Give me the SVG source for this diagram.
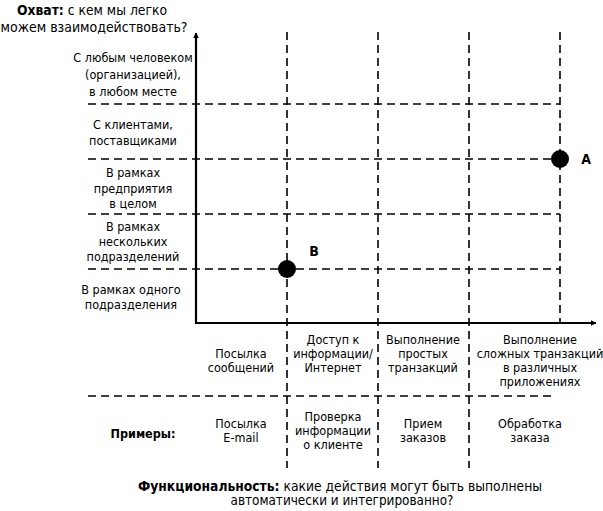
<svg xmlns="http://www.w3.org/2000/svg" width="603" height="511" viewBox="0 0 603 511">
<defs>
<marker id="arr" viewBox="0 0 10 10" refX="9" refY="5" markerWidth="6" markerHeight="6" orient="auto" markerUnits="userSpaceOnUse">
<path d="M0,0 L10,5 L0,10 z" fill="#000"/>
</marker>
<style>
text{font-family:"DejaVu Sans Condensed","Liberation Sans Narrow","Liberation Sans",sans-serif;font-size:12.5px;fill:#000;text-anchor:middle}
.t{font-size:14px}
.b{font-weight:bold}
.d{stroke:#000;stroke-width:1.6;stroke-dasharray:8 5;fill:none}
.ax{stroke:#000;stroke-width:2.2;fill:none}
</style>
</defs>
<rect width="603" height="511" fill="#fff"/>
<g id="grid">
<line class="d" x1="88" y1="104" x2="560" y2="104"/>
<line class="d" x1="88" y1="159" x2="560" y2="159"/>
<line class="d" x1="88" y1="214" x2="560" y2="214"/>
<line class="d" x1="88" y1="269" x2="560" y2="269"/>
<line class="d" x1="287" y1="32" x2="287" y2="468"/>
<line class="d" x1="378" y1="32" x2="378" y2="468"/>
<line class="d" x1="469" y1="32" x2="469" y2="468"/>
<line class="d" x1="560" y1="32" x2="560" y2="323"/>
<line class="d" x1="88" y1="396" x2="555" y2="396"/>
</g>
<g id="axes">
<line class="ax" x1="196" y1="324" x2="196" y2="33" marker-end="url(#arr)"/>
<line class="ax" x1="195" y1="323" x2="596" y2="323" marker-end="url(#arr)"/>
</g>
<g id="title-y">
<text class="t" x="92" y="15" textLength="150" lengthAdjust="spacingAndGlyphs"><tspan class="b">Охват:</tspan> с кем мы легко</text>
<text class="t" x="94" y="32" textLength="187" lengthAdjust="spacingAndGlyphs">можем взаимодействовать?</text>
</g>
<g id="rows">
<text x="133" y="62">С любым человеком</text>
<text x="133" y="79">(организацией),</text>
<text x="133" y="96">в любом месте</text>
<text x="133" y="129">С клиентами,</text>
<text x="133" y="145">поставщиками</text>
<text x="133" y="177">В рамках</text>
<text x="133" y="193">предприятия</text>
<text x="133" y="208">в целом</text>
<text x="133" y="231">В рамках</text>
<text x="133" y="246">нескольких</text>
<text x="133" y="261">подразделений</text>
<text x="131" y="294">В рамках одного</text>
<text x="131" y="309">подразделения</text>
</g>
<g id="point-A">
<circle cx="560" cy="159" r="9"/>
<text class="t b" x="586" y="164">A</text>
</g>
<g id="point-B">
<circle cx="287" cy="269" r="9"/>
<text class="t b" x="314" y="256">B</text>
</g>
<g id="cols">
<text x="241" y="358">Посылка</text>
<text x="241" y="372">сообщений</text>
<text x="333" y="344">Доступ к</text>
<text x="333" y="358">информации/</text>
<text x="333" y="372">Интернет</text>
<text x="423" y="344">Выполнение</text>
<text x="423" y="358">простых</text>
<text x="423" y="372">транзакций</text>
<text x="540" y="344">Выполнение</text>
<text x="540" y="358">сложных транзакций</text>
<text x="540" y="372">в различных</text>
<text x="540" y="386">приложениях</text>
</g>
<g id="examples">
<text class="b" x="143" y="438">Примеры:</text>
<text x="241" y="428">Посылка</text>
<text x="241" y="442">E-mail</text>
<text x="333" y="421">Проверка</text>
<text x="333" y="435">информации</text>
<text x="333" y="449">о клиенте</text>
<text x="423" y="428">Прием</text>
<text x="423" y="442">заказов</text>
<text x="530" y="428">Обработка</text>
<text x="530" y="442">заказа</text>
</g>
<g id="title-x">
<text class="t" x="340" y="491" textLength="404" lengthAdjust="spacingAndGlyphs"><tspan class="b">Функциональность:</tspan> какие действия могут быть выполнены</text>
<text class="t" x="342" y="505" textLength="223" lengthAdjust="spacingAndGlyphs">автоматически и интегрированно?</text>
</g>
</svg>
